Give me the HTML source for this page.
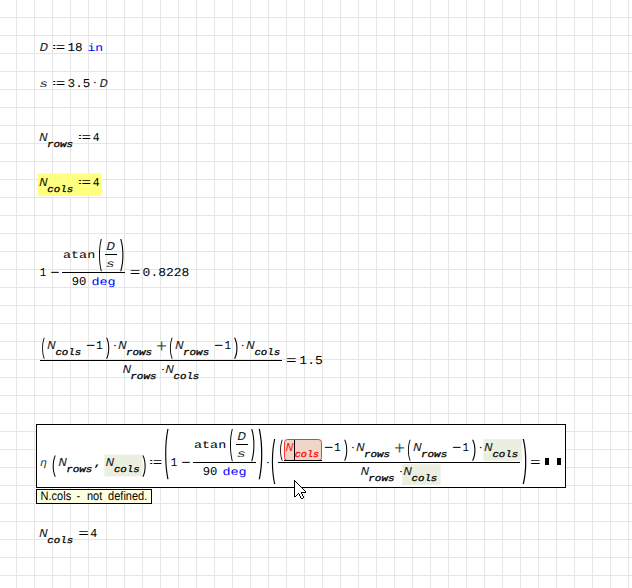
<!DOCTYPE html>
<html><head><meta charset="utf-8"><title>Mathcad</title>
<style>
html,body{margin:0;padding:0;background:#fff}
body{width:632px;height:588px;overflow:hidden}
svg{display:block}
text{text-rendering:geometricPrecision}
</style></head><body>
<svg width="632" height="588" viewBox="0 0 632 588">
<defs><pattern id="g" x="16" y="17" width="18" height="18" patternUnits="userSpaceOnUse"><rect x="0" y="0" width="1" height="18" fill="#e6e6e6"/><rect x="0" y="0" width="18" height="1" fill="#e6e6e6"/></pattern></defs>
<rect width="632" height="588" fill="#fff"/>
<rect width="632" height="588" fill="url(#g)"/>
<text transform="translate(39.60 51.00) scale(1.191 1.000)" font-family='"Liberation Mono", monospace' font-size="12" font-style="italic" fill-opacity="0.85">D</text>
<text transform="translate(49.19 49.00) scale(1.380 0.631)" font-family='"Liberation Mono", monospace' font-size="12">:</text>
<text transform="translate(55.70 51.08) scale(1.321 1.034)" font-family='"Liberation Mono", monospace' font-size="12">=</text>
<text transform="translate(67.49 51.00) scale(1.051 1.000)" font-family='"Liberation Mono", monospace' font-size="12">18</text>
<text transform="translate(87.49 51.00) scale(1.087 0.880)" font-family='"Liberation Mono", monospace' font-size="12" fill="#0000ff">in</text>
<text transform="translate(39.22 87.00) scale(1.215 0.880)" font-family='"Liberation Mono", monospace' font-size="12" font-style="italic" fill-opacity="0.85">s</text>
<text transform="translate(49.19 85.00) scale(1.380 0.631)" font-family='"Liberation Mono", monospace' font-size="12">:</text>
<text transform="translate(55.70 87.08) scale(1.321 1.034)" font-family='"Liberation Mono", monospace' font-size="12">=</text>
<text transform="translate(67.62 87.00) scale(1.045 1.000)" font-family='"Liberation Mono", monospace' font-size="12">3.5</text>
<text transform="translate(91.61 85.48) scale(0.944 0.742)" font-family='"Liberation Mono", monospace' font-size="12">·</text>
<text transform="translate(99.61 87.00) scale(1.160 1.000)" font-family='"Liberation Mono", monospace' font-size="12" font-style="italic" fill-opacity="0.85">D</text>
<text transform="translate(38.99 141.00) scale(1.215 1.000)" font-family='"Liberation Mono", monospace' font-size="12" font-style="italic" fill-opacity="0.85">N</text>
<text transform="translate(46.89 147.00) scale(1.093 0.930)" font-family='"Liberation Mono", monospace' font-size="10" font-style="italic" stroke="#000" stroke-width="0.3">rows</text>
<text transform="translate(74.99 139.00) scale(1.380 0.631)" font-family='"Liberation Mono", monospace' font-size="12">:</text>
<text transform="translate(81.50 141.08) scale(1.321 1.034)" font-family='"Liberation Mono", monospace' font-size="12">=</text>
<text transform="translate(92.63 141.00) scale(0.952 1.000)" font-family='"Liberation Mono", monospace' font-size="12">4</text>
<rect x="37.5" y="173.4" width="64.1" height="22.6" fill="#ffff80"/>
<text transform="translate(38.99 186.00) scale(1.215 1.000)" font-family='"Liberation Mono", monospace' font-size="12" font-style="italic" fill-opacity="0.85">N</text>
<text transform="translate(47.31 192.00) scale(1.075 0.930)" font-family='"Liberation Mono", monospace' font-size="10" font-style="italic" stroke="#000" stroke-width="0.3">cols</text>
<text transform="translate(74.99 184.00) scale(1.380 0.631)" font-family='"Liberation Mono", monospace' font-size="12">:</text>
<text transform="translate(81.50 186.08) scale(1.321 1.034)" font-family='"Liberation Mono", monospace' font-size="12">=</text>
<text transform="translate(92.63 186.00) scale(0.952 1.000)" font-family='"Liberation Mono", monospace' font-size="12">4</text>
<text transform="translate(39.82 276.00) scale(0.904 1.000)" font-family='"Liberation Mono", monospace' font-size="12">1</text>
<text transform="translate(50.31 277.16) scale(1.304 1.169)" font-family='"Liberation Mono", monospace' font-size="12">−</text>
<rect x="62" y="272" width="63" height="1" fill="#000"/>
<text transform="translate(63.06 258.00) scale(1.115 0.880)" font-family='"Liberation Mono", monospace' font-size="12">atan</text>
<text transform="translate(106.19 250.00) scale(1.221 1.000)" font-family='"Liberation Mono", monospace' font-size="12" font-style="italic" fill-opacity="0.85">D</text>
<rect x="105" y="254" width="12" height="1" fill="#000"/>
<text transform="translate(105.79 267.00) scale(1.250 0.880)" font-family='"Liberation Mono", monospace' font-size="12" font-style="italic" fill-opacity="0.85">s</text>
<text transform="translate(71.76 285.00) scale(1.013 1.000)" font-family='"Liberation Mono", monospace' font-size="12">90</text>
<text transform="translate(91.39 285.00) scale(1.123 0.880)" font-family='"Liberation Mono", monospace' font-size="12" fill="#0000ff">deg</text>
<text transform="translate(129.80 276.08) scale(1.475 1.034)" font-family='"Liberation Mono", monospace' font-size="12">=</text>
<text transform="translate(142.61 276.00) scale(1.082 1.000)" font-family='"Liberation Mono", monospace' font-size="12">0.8228</text>
<text transform="translate(47.09 349.00) scale(1.215 1.000)" font-family='"Liberation Mono", monospace' font-size="12" font-style="italic" fill-opacity="0.85">N</text>
<text transform="translate(55.41 355.00) scale(1.075 0.930)" font-family='"Liberation Mono", monospace' font-size="10" font-style="italic" stroke="#000" stroke-width="0.3">cols</text>
<text transform="translate(85.91 350.16) scale(1.304 1.169)" font-family='"Liberation Mono", monospace' font-size="12">−</text>
<text transform="translate(95.99 349.00) scale(0.938 1.000)" font-family='"Liberation Mono", monospace' font-size="12">1</text>
<text transform="translate(111.41 347.98) scale(0.944 0.742)" font-family='"Liberation Mono", monospace' font-size="12">·</text>
<text transform="translate(117.99 349.00) scale(1.215 1.000)" font-family='"Liberation Mono", monospace' font-size="12" font-style="italic" fill-opacity="0.85">N</text>
<text transform="translate(125.89 355.00) scale(1.093 0.930)" font-family='"Liberation Mono", monospace' font-size="10" font-style="italic" stroke="#000" stroke-width="0.3">rows</text>
<text transform="translate(155.95 351.52) scale(1.544 1.533)" font-family='"Liberation Mono", monospace' font-size="12" fill-opacity="0.7">+</text>
<text transform="translate(175.09 349.00) scale(1.215 1.000)" font-family='"Liberation Mono", monospace' font-size="12" font-style="italic" fill-opacity="0.85">N</text>
<text transform="translate(182.99 355.00) scale(1.093 0.930)" font-family='"Liberation Mono", monospace' font-size="10" font-style="italic" stroke="#000" stroke-width="0.3">rows</text>
<text transform="translate(214.11 350.16) scale(1.304 1.169)" font-family='"Liberation Mono", monospace' font-size="12">−</text>
<text transform="translate(224.62 349.00) scale(0.904 1.000)" font-family='"Liberation Mono", monospace' font-size="12">1</text>
<text transform="translate(239.21 347.98) scale(0.944 0.742)" font-family='"Liberation Mono", monospace' font-size="12">·</text>
<text transform="translate(246.09 349.00) scale(1.215 1.000)" font-family='"Liberation Mono", monospace' font-size="12" font-style="italic" fill-opacity="0.85">N</text>
<text transform="translate(254.41 355.00) scale(1.075 0.930)" font-family='"Liberation Mono", monospace' font-size="10" font-style="italic" stroke="#000" stroke-width="0.3">cols</text>
<rect x="40" y="360" width="242" height="1" fill="#000"/>
<text transform="translate(122.39 373.00) scale(1.215 1.000)" font-family='"Liberation Mono", monospace' font-size="12" font-style="italic" fill-opacity="0.85">N</text>
<text transform="translate(130.29 379.00) scale(1.093 0.930)" font-family='"Liberation Mono", monospace' font-size="10" font-style="italic" stroke="#000" stroke-width="0.3">rows</text>
<text transform="translate(159.41 371.98) scale(0.944 0.742)" font-family='"Liberation Mono", monospace' font-size="12">·</text>
<text transform="translate(165.19 373.00) scale(1.215 1.000)" font-family='"Liberation Mono", monospace' font-size="12" font-style="italic" fill-opacity="0.85">N</text>
<text transform="translate(173.51 379.00) scale(1.075 0.930)" font-family='"Liberation Mono", monospace' font-size="10" font-style="italic" stroke="#000" stroke-width="0.3">cols</text>
<text transform="translate(286.00 364.08) scale(1.475 1.034)" font-family='"Liberation Mono", monospace' font-size="12">=</text>
<text transform="translate(299.36 364.00) scale(1.086 1.000)" font-family='"Liberation Mono", monospace' font-size="12">1.5</text>
<rect x="36.5" y="424.5" width="529" height="63" fill="#fff" stroke="#000"/>
<text transform="translate(40.04 466.00) scale(0.989 0.880)" font-family='"Liberation Mono", monospace' font-size="12" font-style="italic" fill-opacity="0.85">η</text>
<text transform="translate(58.29 466.00) scale(1.215 1.000)" font-family='"Liberation Mono", monospace' font-size="12" font-style="italic" fill-opacity="0.85">N</text>
<text transform="translate(66.19 472.00) scale(1.093 0.930)" font-family='"Liberation Mono", monospace' font-size="10" font-style="italic" stroke="#000" stroke-width="0.3">rows</text>
<text transform="translate(92.93 466.00) scale(1.298 0.880)" font-family='"Liberation Mono", monospace' font-size="12">,</text>
<rect x="104.4" y="454.6" width="38.1" height="21.8" fill="#ebefdf"/>
<text transform="translate(105.59 466.00) scale(1.215 1.000)" font-family='"Liberation Mono", monospace' font-size="12" font-style="italic" fill-opacity="0.85">N</text>
<text transform="translate(113.91 472.00) scale(1.075 0.930)" font-family='"Liberation Mono", monospace' font-size="10" font-style="italic" stroke="#000" stroke-width="0.3">cols</text>
<text transform="translate(146.19 464.00) scale(1.380 0.631)" font-family='"Liberation Mono", monospace' font-size="12">:</text>
<text transform="translate(152.70 466.08) scale(1.321 1.034)" font-family='"Liberation Mono", monospace' font-size="12">=</text>
<text transform="translate(170.82 466.00) scale(0.904 1.000)" font-family='"Liberation Mono", monospace' font-size="12">1</text>
<text transform="translate(181.31 467.16) scale(1.304 1.169)" font-family='"Liberation Mono", monospace' font-size="12">−</text>
<rect x="193" y="462" width="63" height="1" fill="#000"/>
<text transform="translate(194.06 448.00) scale(1.115 0.880)" font-family='"Liberation Mono", monospace' font-size="12">atan</text>
<text transform="translate(237.19 440.00) scale(1.221 1.000)" font-family='"Liberation Mono", monospace' font-size="12" font-style="italic" fill-opacity="0.85">D</text>
<rect x="236" y="444" width="12" height="1" fill="#000"/>
<text transform="translate(236.79 457.00) scale(1.250 0.880)" font-family='"Liberation Mono", monospace' font-size="12" font-style="italic" fill-opacity="0.85">s</text>
<text transform="translate(202.76 475.00) scale(1.013 1.000)" font-family='"Liberation Mono", monospace' font-size="12">90</text>
<text transform="translate(222.39 475.00) scale(1.123 0.880)" font-family='"Liberation Mono", monospace' font-size="12" fill="#0000ff">deg</text>
<text transform="translate(264.61 464.98) scale(0.944 0.742)" font-family='"Liberation Mono", monospace' font-size="12">·</text>
<rect x="402.2" y="464.2" width="38.5" height="20.9" fill="#ebefdf"/>
<rect x="483.4" y="439.1" width="38.5" height="21.7" fill="#ebefdf"/>
<rect x="284.5" y="439.5" width="37" height="21" fill="#eed6c9" stroke="#ff3030" rx="3"/>
<text transform="translate(285.43 451.00) scale(1.112 1.000)" font-family='"Liberation Mono", monospace' font-size="12" font-style="italic" fill="#ff0000" fill-opacity="0.85">N</text>
<text transform="translate(294.74 457.00) scale(1.018 0.930)" font-family='"Liberation Mono", monospace' font-size="10" font-style="italic" fill="#ff0000" stroke="#ff0000" stroke-width="0.3">cols</text>
<rect x="294" y="440" width="1" height="21" fill="#000"/>
<rect x="284" y="460" width="38" height="1" fill="#000"/>
<text transform="translate(323.91 452.16) scale(1.304 1.169)" font-family='"Liberation Mono", monospace' font-size="12">−</text>
<text transform="translate(333.99 451.00) scale(0.938 1.000)" font-family='"Liberation Mono", monospace' font-size="12">1</text>
<text transform="translate(349.41 449.98) scale(0.944 0.742)" font-family='"Liberation Mono", monospace' font-size="12">·</text>
<text transform="translate(355.99 451.00) scale(1.215 1.000)" font-family='"Liberation Mono", monospace' font-size="12" font-style="italic" fill-opacity="0.85">N</text>
<text transform="translate(363.89 457.00) scale(1.093 0.930)" font-family='"Liberation Mono", monospace' font-size="10" font-style="italic" stroke="#000" stroke-width="0.3">rows</text>
<text transform="translate(393.95 453.52) scale(1.544 1.533)" font-family='"Liberation Mono", monospace' font-size="12" fill-opacity="0.7">+</text>
<text transform="translate(413.09 451.00) scale(1.215 1.000)" font-family='"Liberation Mono", monospace' font-size="12" font-style="italic" fill-opacity="0.85">N</text>
<text transform="translate(420.99 457.00) scale(1.093 0.930)" font-family='"Liberation Mono", monospace' font-size="10" font-style="italic" stroke="#000" stroke-width="0.3">rows</text>
<text transform="translate(452.11 452.16) scale(1.304 1.169)" font-family='"Liberation Mono", monospace' font-size="12">−</text>
<text transform="translate(462.62 451.00) scale(0.904 1.000)" font-family='"Liberation Mono", monospace' font-size="12">1</text>
<text transform="translate(477.21 449.98) scale(0.944 0.742)" font-family='"Liberation Mono", monospace' font-size="12">·</text>
<text transform="translate(484.09 451.00) scale(1.215 1.000)" font-family='"Liberation Mono", monospace' font-size="12" font-style="italic" fill-opacity="0.85">N</text>
<text transform="translate(492.41 457.00) scale(1.075 0.930)" font-family='"Liberation Mono", monospace' font-size="10" font-style="italic" stroke="#000" stroke-width="0.3">cols</text>
<rect x="278" y="462" width="242" height="1" fill="#000"/>
<text transform="translate(360.39 475.00) scale(1.215 1.000)" font-family='"Liberation Mono", monospace' font-size="12" font-style="italic" fill-opacity="0.85">N</text>
<text transform="translate(368.29 481.00) scale(1.093 0.930)" font-family='"Liberation Mono", monospace' font-size="10" font-style="italic" stroke="#000" stroke-width="0.3">rows</text>
<text transform="translate(397.41 473.98) scale(0.944 0.742)" font-family='"Liberation Mono", monospace' font-size="12">·</text>
<text transform="translate(403.19 475.00) scale(1.215 1.000)" font-family='"Liberation Mono", monospace' font-size="12" font-style="italic" fill-opacity="0.85">N</text>
<text transform="translate(411.51 481.00) scale(1.075 0.930)" font-family='"Liberation Mono", monospace' font-size="10" font-style="italic" stroke="#000" stroke-width="0.3">cols</text>
<text transform="translate(530.00 466.08) scale(1.475 1.034)" font-family='"Liberation Mono", monospace' font-size="12">=</text>
<rect x="545" y="458" width="4" height="7" fill="#000"/>
<rect x="557" y="458" width="4" height="7" fill="#000"/>
<rect x="36.5" y="489.5" width="115" height="14" fill="#ffffe1" stroke="#000"/>
<text transform="translate(0 500) scale(1 1.13)" font-family='"Liberation Sans", sans-serif' font-size="11"><tspan x="40.6">N.cols</tspan> <tspan x="76.5">-</tspan> <tspan x="86.9">not</tspan> <tspan x="108.1">defined.</tspan></text>
<text transform="translate(38.99 537.00) scale(1.215 1.000)" font-family='"Liberation Mono", monospace' font-size="12" font-style="italic" fill-opacity="0.85">N</text>
<text transform="translate(47.31 543.00) scale(1.075 0.930)" font-family='"Liberation Mono", monospace' font-size="10" font-style="italic" stroke="#000" stroke-width="0.3">cols</text>
<text transform="translate(78.20 537.08) scale(1.475 1.034)" font-family='"Liberation Mono", monospace' font-size="12">=</text>
<text transform="translate(90.32 537.00) scale(0.969 1.000)" font-family='"Liberation Mono", monospace' font-size="12">4</text>
<g style="will-change:opacity"><text transform="translate(97.26 263.65) scale(0.870 2.870)" font-family='"Liberation Mono", monospace' font-size="12">(</text>
<text transform="translate(118.24 263.65) scale(0.995 2.870)" font-family='"Liberation Mono", monospace' font-size="12">)</text>
<text transform="translate(40.38 354.45) scale(0.808 1.868)" font-family='"Liberation Mono", monospace' font-size="12">(</text>
<text transform="translate(104.30 354.45) scale(0.964 1.868)" font-family='"Liberation Mono", monospace' font-size="12">)</text>
<text transform="translate(168.32 354.45) scale(0.839 1.868)" font-family='"Liberation Mono", monospace' font-size="12">(</text>
<text transform="translate(232.12 354.45) scale(1.057 1.868)" font-family='"Liberation Mono", monospace' font-size="12">)</text>
<text transform="translate(50.87 471.60) scale(0.964 1.886)" font-family='"Liberation Mono", monospace' font-size="12">(</text>
<text transform="translate(140.54 471.60) scale(0.995 1.886)" font-family='"Liberation Mono", monospace' font-size="12">)</text>
<text transform="translate(163.08 467.52) scale(1.057 4.488)" font-family='"Liberation Mono", monospace' font-size="12">(</text>
<text transform="translate(228.26 453.65) scale(0.870 2.870)" font-family='"Liberation Mono", monospace' font-size="12">(</text>
<text transform="translate(249.24 453.65) scale(0.995 2.870)" font-family='"Liberation Mono", monospace' font-size="12">)</text>
<text transform="translate(256.40 467.52) scale(1.119 4.488)" font-family='"Liberation Mono", monospace' font-size="12">)</text>
<text transform="translate(269.68 474.34) scale(1.057 4.041)" font-family='"Liberation Mono", monospace' font-size="12">(</text>
<text transform="translate(278.38 456.45) scale(0.808 1.868)" font-family='"Liberation Mono", monospace' font-size="12">(</text>
<text transform="translate(342.30 456.45) scale(0.964 1.868)" font-family='"Liberation Mono", monospace' font-size="12">)</text>
<text transform="translate(406.32 456.45) scale(0.839 1.868)" font-family='"Liberation Mono", monospace' font-size="12">(</text>
<text transform="translate(470.12 456.45) scale(1.057 1.868)" font-family='"Liberation Mono", monospace' font-size="12">)</text>
<text transform="translate(520.60 474.34) scale(1.119 4.041)" font-family='"Liberation Mono", monospace' font-size="12">)</text></g>
<path d="M295 482h1v1h-1zM295 483h2v1h-2zM295 484h3v1h-3zM295 485h4v1h-4zM295 486h5v1h-5zM295 487h6v1h-6zM295 488h7v1h-7zM295 489h8v1h-8zM295 490h9v1h-9zM295 491h10v1h-10zM295 492h6v1h-6zM295 493h3v1h-3zM299 493h2v1h-2zM295 494h2v1h-2zM300 494h2v1h-2zM295 495h1v1h-1zM300 495h2v1h-2zM301 496h2v1h-2zM301 497h2v1h-2z" fill="#fff" shape-rendering="crispEdges"/>
<path d="M294 480h1v1h-1zM294 481h2v1h-2zM294 482h1v1h-1zM296 482h1v1h-1zM294 483h1v1h-1zM297 483h1v1h-1zM294 484h1v1h-1zM298 484h1v1h-1zM294 485h1v1h-1zM299 485h1v1h-1zM294 486h1v1h-1zM300 486h1v1h-1zM294 487h1v1h-1zM301 487h1v1h-1zM294 488h1v1h-1zM302 488h1v1h-1zM294 489h1v1h-1zM303 489h1v1h-1zM294 490h1v1h-1zM304 490h1v1h-1zM294 491h1v1h-1zM305 491h1v1h-1zM294 492h1v1h-1zM301 492h5v1h-5zM294 493h1v1h-1zM298 493h1v1h-1zM301 493h1v1h-1zM294 494h1v1h-1zM297 494h1v1h-1zM299 494h1v1h-1zM302 494h1v1h-1zM294 495h1v1h-1zM296 495h1v1h-1zM299 495h1v1h-1zM302 495h1v1h-1zM294 496h2v1h-2zM300 496h1v1h-1zM303 496h1v1h-1zM300 497h1v1h-1zM303 497h1v1h-1zM301 498h2v1h-2z" fill="#000" shape-rendering="crispEdges"/>
</svg>
</body></html>
